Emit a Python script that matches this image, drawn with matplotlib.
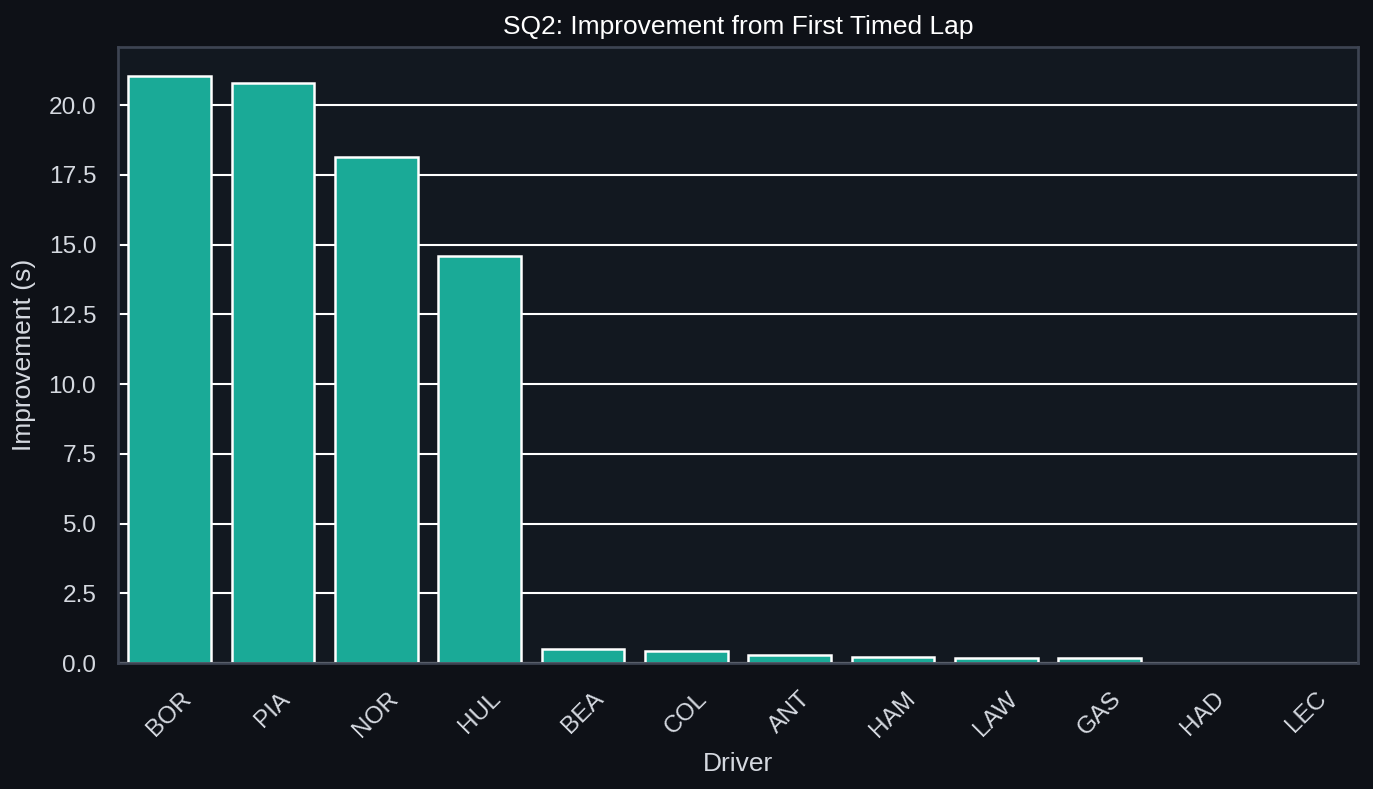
import matplotlib
matplotlib.use("Agg")
import matplotlib.pyplot as plt

# SQ2 improvement per driver (seconds)
drivers = ["BOR", "PIA", "NOR", "HUL", "BEA", "COL", "ANT", "HAM", "LAW", "GAS", "HAD", "LEC"]
improvement = [21.03, 20.78, 18.15, 14.6, 0.5, 0.42, 0.29, 0.2, 0.17, 0.17, 0.01, 0.01]

fig_bg = "#0e1117"
ax_bg = "#121820"
spine_col = "#3d4452"
text_col = "#d5d9e0"
bar_col = "#1aaa97"

plt.rcParams['font.family'] = ['Liberation Sans', 'DejaVu Sans']

fig = plt.figure(figsize=(1373 / 150, 789 / 150), dpi=150, facecolor=fig_bg)
ax = fig.add_axes([118 / 1373, 1 - 663 / 789, (1358 - 118) / 1373, (663 - 47) / 789])
ax.set_facecolor(ax_bg)

x = range(len(drivers))
ax.bar(x, improvement, width=0.8, color=bar_col, edgecolor="white", linewidth=1.2, zorder=2)

ax.set_xlim(-0.5, len(drivers) - 0.5)
ax.set_ylim(0, max(improvement) * 1.05)
ax.set_yticks([0, 2.5, 5, 7.5, 10, 12.5, 15, 17.5, 20])
ax.set_yticklabels(["0.0", "2.5", "5.0", "7.5", "10.0", "12.5", "15.0", "17.5", "20.0"])
ax.set_xticks(list(x))
ax.set_xticklabels(drivers, rotation=45)

ax.yaxis.grid(True, color="white", linewidth=1.0, zorder=1)
ax.set_axisbelow(True)
ax.tick_params(length=0, labelsize=11.7, colors=text_col)
ax.tick_params(axis="y", pad=10.5)
ax.tick_params(axis="x", pad=12)
for s in ax.spines.values():
    s.set_color(spine_col)
    s.set_linewidth(1.3)

ax.set_title("SQ2: Improvement from First Timed Lap", color="white", fontsize=12.7, pad=6)
ax.set_xlabel("Driver", color=text_col, fontsize=12.7, labelpad=5)
ax.set_ylabel("Improvement (s)", color=text_col, fontsize=12.7, labelpad=6)

fig.savefig("out.png", dpi=150, facecolor=fig_bg)
